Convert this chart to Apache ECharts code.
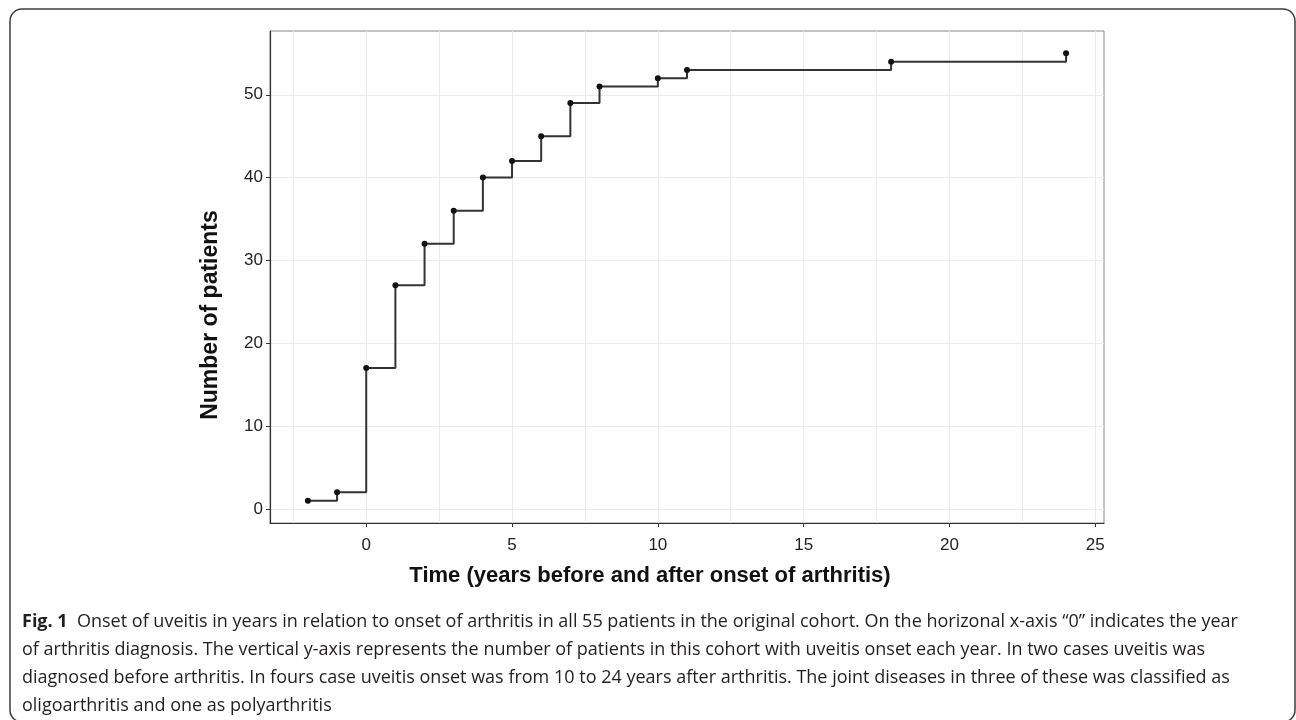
<!DOCTYPE html>
<html lang="en" style="height: 100%">
  <head>
    <meta charset="utf-8" />
  </head>
  <body style="height: 100%; margin: 0; background: #fff">
    <div id="container" style="width: 1296px; height: 720px"></div>

    <script
      type="text/javascript"
      src="https://fastly.jsdelivr.net/npm/echarts@6/dist/echarts.min.js"
    ></script>

    <script type="text/javascript">
      // years relative to arthritis onset, cumulative patients with uveitis
      var years = [-2, -1, 0, 1, 2, 3, 4, 5, 6, 7, 8, 10, 11, 18, 24];
      var patients = [1, 2, 17, 27, 32, 36, 40, 42, 45, 49, 51, 52, 53, 54, 55];
      var xTicks = [0, 5, 10, 15, 20, 25];
      var yTicks = [0, 10, 20, 30, 40, 50];

      var xTitle = "Time (years before and after onset of arthritis)";
      var yTitle = "Number of patients";
      var captionLines = [
        "{b|Fig. 1}  Onset of uveitis in years in relation to onset of arthritis in all 55 patients in the original cohort. On the horizonal x-axis \u201c0\u201d indicates the year",
        "of arthritis diagnosis. The vertical y-axis represents the number of patients in this cohort with uveitis onset each year. In two cases uveitis was",
        "diagnosed before arthritis. In fours case uveitis onset was from 10 to 24 years after arthritis. The joint diseases in three of these was classified as",
        "oligoarthritis and one as polyarthritis",
      ];

      var dom = document.getElementById("container");
      var myChart = echarts.init(dom, null, { renderer: "canvas" });

      var points = years.map(function (x, i) {
        return [x, patients[i]];
      });

      var labelFont = "Liberation Sans";
      var captionGraphics = captionLines.map(function (line, i) {
        return {
          type: "text",
          x: 22,
          y: 622 + i * 28,
          style: {
            text: line,
            fill: "#231f20",
            font: '18px "Open Sans"',
            verticalAlign: "middle",
            rich: { b: { fontWeight: "bold", fontSize: 18, fontFamily: "Open Sans", fill: "#231f20" } },
          },
        };
      });

      var option = {
        animation: false,
        grid: {
          left: 270,
          right: 192,
          top: 31,
          bottom: 197,
          show: true,
          borderColor: "#8a8a8a",
          borderWidth: 1,
        },
        xAxis: {
          type: "value",
          min: -3.3,
          max: 25.3,
          axisLine: { show: true, onZero: false, lineStyle: { color: "#333", width: 1.2 } },
          axisTick: { show: true, customValues: xTicks, length: 4, lineStyle: { color: "#333" } },
          axisLabel: {
            customValues: xTicks,
            fontSize: 17,
            color: "#222",
            fontFamily: labelFont,
            margin: 14,
          },
          splitLine: { show: true, lineStyle: { color: "#ebebeb", width: 1 } },
          minorTick: { show: false, splitNumber: 2 },
          minorSplitLine: { show: true, lineStyle: { color: "#ebebeb", width: 1 } },
        },
        yAxis: {
          type: "value",
          min: -1.7,
          max: 57.7,
          axisLine: { show: true, onZero: false, lineStyle: { color: "#333", width: 1.2 } },
          axisTick: { show: true, customValues: yTicks, length: 4, lineStyle: { color: "#333" } },
          axisLabel: {
            customValues: yTicks,
            fontSize: 17,
            color: "#222",
            fontFamily: labelFont,
            margin: 7,
          },
          splitLine: { show: true, lineStyle: { color: "#ebebeb", width: 1 } },
        },
        series: [
          {
            type: "line",
            step: "end",
            data: points,
            symbol: "circle",
            symbolSize: 6,
            showAllSymbol: true,
            itemStyle: { color: "#111" },
            lineStyle: { color: "#333", width: 2 },
            z: 3,
          },
        ],
        graphic: [
          {
            type: "rect",
            shape: { x: 10, y: 9, width: 1285, height: 713, r: 12 },
            style: { fill: "none", stroke: "#3c3c3c", lineWidth: 1.5 },
            silent: true,
          },
          {
            type: "text",
            x: 650,
            y: 576,
            style: {
              text: xTitle,
              fill: "#111",
              font: 'bold 22px "Liberation Sans"',
              align: "center",
              verticalAlign: "middle",
            },
          },
          {
            type: "text",
            x: 211,
            y: 315,
            rotation: Math.PI / 2,
            style: {
              text: yTitle,
              fill: "#111",
              font: 'bold 23px "Liberation Sans"',
              align: "center",
              verticalAlign: "middle",
            },
          },
        ].concat(captionGraphics),
      };

      myChart.setOption(option);
      window.addEventListener("resize", myChart.resize);
    </script>
  </body>
</html>
